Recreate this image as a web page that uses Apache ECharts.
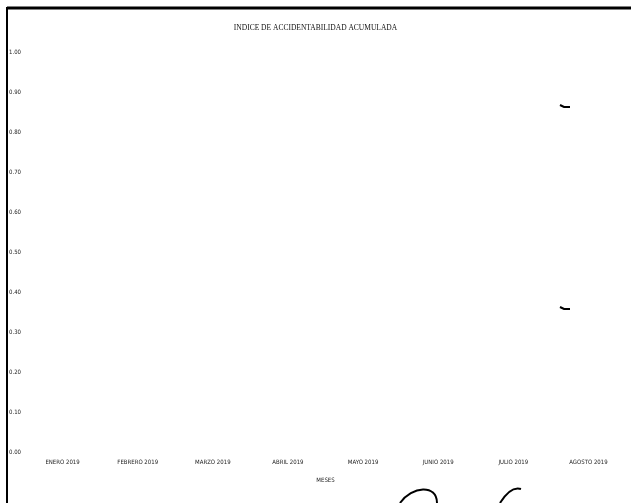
<!DOCTYPE html>
<html>
<head>
<meta charset="utf-8">
<script src="https://cdn.jsdelivr.net/npm/echarts@6/dist/echarts.min.js"></script>
<style>
html,body{margin:0;padding:0;background:#fff;}
#chart{width:631px;height:503px;}
</style>
</head>
<body>
<div id="chart"></div>
<script>
const titleText = 'INDICE DE ACCIDENTABILIDAD ACUMULADA';
const categories = ['ENERO 2019','FEBRERO 2019','MARZO 2019','ABRIL 2019','MAYO 2019','JUNIO 2019','JULIO 2019','AGOSTO 2019'];
const values = [null, null, null, null, null, null, null, null];
const yMin = 0, yMax = 1, yStep = 0.1;
const xName = 'MESES';

const chart = echarts.init(document.getElementById('chart'), null, {renderer:'canvas'});
const labelFont = '"Liberation Sans Narrow","DejaVu Sans Condensed",Arial';
chart.setOption({
  backgroundColor:'#ffffff',
  animation:false,
  title:{
    text:titleText, left:'center', top:19,
    textStyle:{fontFamily:'"Liberation Serif",serif', fontSize:7.5, fontWeight:'normal', color:'#111'}
  },
  grid:{left:25, right:5, top:52, bottom:51, containLabel:false},
  xAxis:{
    type:'category', data:categories, boundaryGap:true,
    axisLine:{show:false}, axisTick:{show:false}, splitLine:{show:false},
    axisLabel:{fontFamily:labelFont, fontSize:6, color:'#222', margin:7, interval:0},
    name:xName, nameLocation:'middle', nameGap:25,
    nameTextStyle:{fontFamily:labelFont, fontSize:6, color:'#222'}
  },
  yAxis:{
    type:'value', min:yMin, max:yMax, interval:yStep,
    axisLine:{show:false}, axisTick:{show:false}, splitLine:{show:false},
    axisLabel:{fontFamily:labelFont, fontSize:6, color:'#222', margin:4,
      formatter:function(v){return v.toFixed(2);}}
  },
  series:[{type:'line', data:values, symbol:'none', lineStyle:{color:'#000', width:1}}],
  graphic:[
    {type:'line', shape:{x1:7,y1:8,x2:631,y2:8}, style:{stroke:'#000', lineWidth:3}},
    {type:'line', shape:{x1:7,y1:7,x2:7,y2:503}, style:{stroke:'#000', lineWidth:2}},
    {type:'polyline', shape:{points:[[560,105],[564,107],[570,107]]}, style:{stroke:'#000', lineWidth:2, fill:null}},
    {type:'polyline', shape:{points:[[560,307],[564,309],[570,309]]}, style:{stroke:'#000', lineWidth:2, fill:null}},
    {type:'bezierCurve', shape:{x1:400,y1:503,x2:437,y2:503,cpx1:412,cpy1:486,cpx2:437,cpy2:484}, style:{stroke:'#000', lineWidth:2, fill:null}},
    {type:'bezierCurve', shape:{x1:500,y1:503,x2:521,y2:489,cpx1:505,cpy1:495,cpx2:512,cpy2:486}, style:{stroke:'#000', lineWidth:2, fill:null}}
  ]
});
</script>
</body>
</html>
